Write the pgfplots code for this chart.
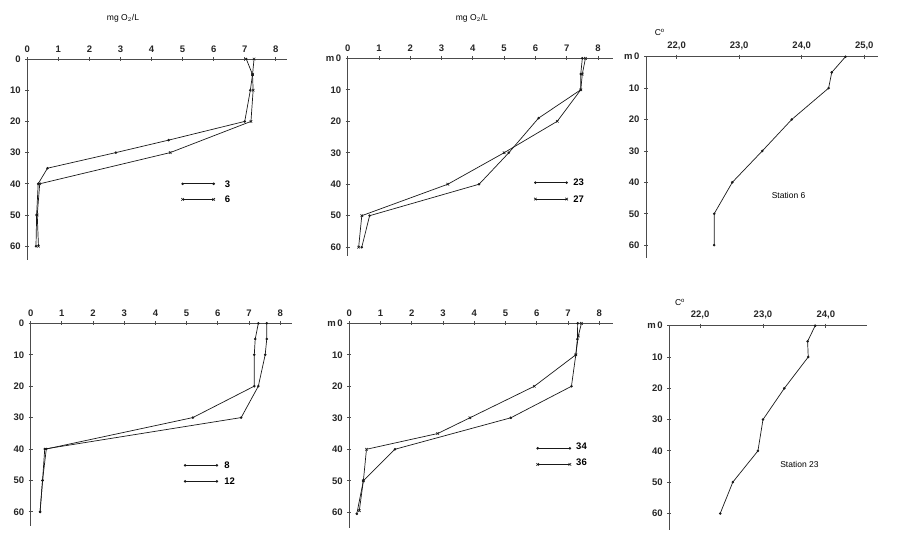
\documentclass[border=0pt]{standalone}
\usepackage{fontspec}
\setmainfont{Liberation Sans}
\usepackage{pgfplots}
\pgfplotsset{compat=1.18}
\pgfplotsset{
  prof/.style={scale only axis, anchor=north west, y dir=reverse,
    axis x line=top, axis y line=left,
    axis line style={-, draw=black!70, line width=1pt},
    tick style={black!70, line width=0.8pt}, major tick length=4pt, tick align=center,
    ymin=0, ytick={0,10,20,30,40,50,60}, clip=false,
    ticklabel style={font=\bfseries\fontsize{9.5}{11}\selectfont, text=black!85},
    /pgf/number format/assume math mode=true,
    xticklabel style={yshift=1pt}, yticklabel style={xshift=-1pt}},
  dat/.style={black!90, line width=0.7pt, mark size=0.9pt},
  dots/.style={dat, mark=*},
  xs/.style={dat, mark=x, mark size=1.8pt, mark options={line width=0.6pt}},
}
\newcommand{\lab}{\bfseries\fontsize{9.5}{11}\selectfont}
\newcommand{\labr}{\fontsize{8.5}{10}\selectfont}
\begin{document}
\begin{tikzpicture}
\useasboundingbox (0,0) rectangle (900pt,-539pt);
% Panel 1
\begin{axis}[prof, at={(27.3pt,-59pt)}, width=259.7pt, height=200.6pt,
  xmin=0, xmax=8.36, ymax=64.3, xtick={0,1,...,8}, yticklabels={0,10,20,30,40,50,60}]
\addplot[dots] coordinates {(7.05,0) (7.25,5) (7.18,10) (7.0,20) (4.55,26) (2.85,30) (0.65,35) (0.35,40) (0.3,50) (0.28,60)};
\addplot[xs] coordinates {(7.3,0) (7.25,5) (7.27,10) (7.2,20) (4.6,30) (0.4,40) (0.32,50) (0.36,60)};
\addplot[dots] coordinates {(5.0,40) (6.0,40)};
\addplot[xs] coordinates {(5.0,45) (6.0,45)};
\node[anchor=west, font=\lab] at (axis cs:6.25,40) {3};
\node[anchor=west, font=\lab] at (axis cs:6.25,45) {6};
\node[font=\labr] at (axis cs:3.08,-13) {mg O$_2$/L};
\end{axis}
% Panel 2
\begin{axis}[prof, at={(347.7pt,-58.3pt)}, width=265.6pt, height=198pt,
  xmin=0, xmax=8.49, ymax=62.9, xtick={0,1,...,8}, yticklabels={m\,0,10,20,30,40,50,60}]
\addplot[dots] coordinates {(7.5,0) (7.45,5) (7.45,10) (6.1,19) (5.15,30) (4.2,40) (0.7,50) (0.45,60)};
\addplot[xs] coordinates {(7.6,0) (7.5,5) (7.45,10) (6.7,20) (5.0,30) (3.2,40) (0.45,50) (0.35,60)};
\addplot[dots] coordinates {(6.0,39.5) (7.0,39.5)};
\addplot[xs] coordinates {(6.0,44.7) (7.0,44.7)};
\node[anchor=west, font=\lab] at (axis cs:7.1,39.5) {23};
\node[anchor=west, font=\lab] at (axis cs:7.1,44.7) {27};
\node[font=\labr] at (axis cs:3.97,-12.8) {mg O$_2$/L};
\end{axis}
% Panel 3
\begin{axis}[prof, at={(646pt,-56.7pt)}, width=232pt, height=201pt,
  xmin=21.51, xmax=25.22, ymax=64, xtick={22,23,24,25}, xticklabels={{22,0},{23,0},{24,0},{25,0}},
  yticklabels={m\,0,10,20,30,40,50,60}]
\addplot[dots] coordinates {(24.7,0) (24.48,5) (24.43,10) (23.84,20) (23.37,30) (22.89,40) (22.6,50) (22.6,60)};
\node[font=\labr] at (axis cs:21.73,-7.8) {C$^{\mathrm{o}}$};
\node[font=\labr] at (axis cs:23.79,44.1) {Station 6};
\end{axis}
% Panel 4
\begin{axis}[prof, at={(30.7pt,-323.3pt)}, width=261pt, height=203pt,
  xmin=0, xmax=8.37, ymax=64.6, xtick={0,1,...,8}, yticklabels={0,10,20,30,40,50,60}]
\addplot[dots] coordinates {(7.3,0) (7.2,5) (7.17,10) (7.17,20) (5.2,30) (0.5,40) (0.38,50) (0.3,60)};
\addplot[dots] coordinates {(7.57,0) (7.57,5) (7.52,10) (7.3,20) (6.75,30) (0.45,40) (0.38,50) (0.3,60)};
\addplot[dots] coordinates {(4.95,45.2) (5.97,45.2)};
\addplot[dots] coordinates {(4.95,50.3) (5.97,50.3)};
\node[anchor=west, font=\lab] at (axis cs:6.1,45.2) {8};
\node[anchor=west, font=\lab] at (axis cs:6.1,50.3) {12};
\end{axis}
% Panel 5
\begin{axis}[prof, at={(349.3pt,-323.3pt)}, width=264pt, height=204.7pt,
  xmin=0, xmax=8.45, ymax=65, xtick={0,1,...,8}, yticklabels={m\,0,10,20,30,40,50,60}]
\addplot[dots] coordinates {(7.31,0) (7.3,5) (7.25,10) (7.11,20) (5.17,30) (1.46,40) (0.45,50) (0.24,60.5)};
\addplot[xs] coordinates {(7.43,0) (7.33,4) (7.25,10) (5.92,20) (3.86,30) (2.83,35) (0.55,40) (0.45,50) (0.32,59.5)};
\addplot[dots] coordinates {(6.03,39.7) (7.06,39.7)};
\addplot[xs] coordinates {(6.03,44.8) (7.06,44.8)};
\node[anchor=west, font=\lab] at (axis cs:7.15,39.0) {34};
\node[anchor=west, font=\lab] at (axis cs:7.15,44.1) {36};
\end{axis}
% Panel 6
\begin{axis}[prof, at={(669.3pt,-325.7pt)}, width=197.4pt, height=204.3pt,
  xmin=21.51, xmax=24.65, ymax=65.3, xtick={22,23,24}, xticklabels={{22,0},{23,0},{24,0}},
  yticklabels={m\,0,10,20,30,40,50,60}]
\addplot[dots] coordinates {(23.83,0) (23.71,5) (23.72,10) (23.34,20) (23.0,30) (22.92,40) (22.52,50) (22.32,60)};
\node[font=\labr] at (axis cs:21.68,-7.4) {C$^{\mathrm{o}}$};
\node[font=\labr] at (axis cs:23.58,44.3) {Station 23};
\end{axis}
\end{tikzpicture}
\end{document}
